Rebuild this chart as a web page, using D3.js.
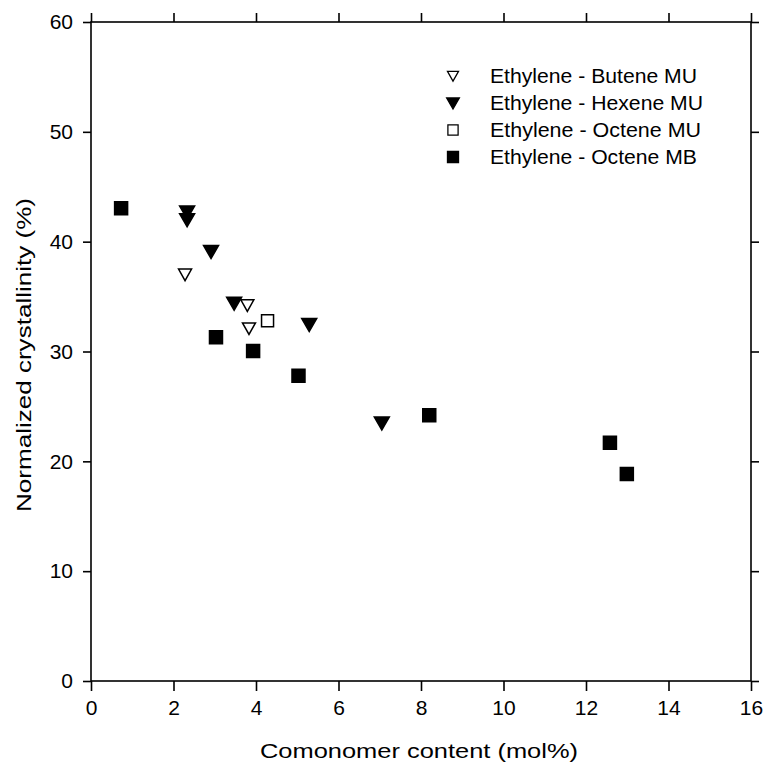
<!DOCTYPE html>
<html>
<head>
<meta charset="utf-8">
<script src="https://cdn.jsdelivr.net/npm/d3@7"></script>
<style>
  body { margin: 0; background: #fff; }
  text { font-family: "Liberation Sans", Arial, sans-serif; fill: #000; }
</style>
</head>
<body>
<div class="chartDiv"></div>
<script>
// data
var buteneMU_x = [2.28, 3.79, 3.83];
var buteneMU_y = [37.0, 34.2, 32.1];
var hexeneMU_x = [2.33, 2.33, 2.91, 3.47, 5.29, 7.05];
var hexeneMU_y = [42.7, 42.0, 39.1, 34.4, 32.45, 23.5];
var octeneMU_x = [4.28];
var octeneMU_y = [32.8];
var octeneMB_x = [0.73, 3.03, 3.93, 5.03, 8.2, 12.58, 12.99];
var octeneMB_y = [43.05, 31.3, 30.05, 27.8, 24.2, 21.7, 18.85];

var xTicks = [0, 2, 4, 6, 8, 10, 12, 14, 16];
var yTicks = [0, 10, 20, 30, 40, 50, 60];
var legendLabels = ["Ethylene - Butene MU", "Ethylene - Hexene MU", "Ethylene - Octene MU", "Ethylene - Octene MB"];

var width = 763, height = 769;
var margin = { top: 22, right: 12, bottom: 88, left: 91 };

var svg = d3.select(".chartDiv").append("svg")
    .attr("width", width)
    .attr("height", height);

var x = d3.scaleLinear().domain([0, 16]).range([margin.left, width - margin.right]);
var y = d3.scaleLinear().domain([0, 60]).range([height - margin.bottom, margin.top]);

// frame
svg.append("rect")
    .attr("x", x(0))
    .attr("y", y(60))
    .attr("width", x(16) - x(0))
    .attr("height", y(0) - y(60))
    .attr("fill", "none")
    .attr("stroke", "#000")
    .attr("stroke-width", 1.6);

function styleAxis(g, noLabels) {
    g.select(".domain").remove();
    g.selectAll(".tick line").attr("stroke", "#000").attr("stroke-width", 1.6);
    g.selectAll(".tick text").style("font-size", "21px");
    if (noLabels) g.selectAll(".tick text").remove();
}

svg.append("g")
    .attr("transform", "translate(0," + y(0) + ")")
    .call(d3.axisBottom(x).tickValues(xTicks).tickSize(10).tickPadding(9).tickFormat(d3.format("d")))
    .call(styleAxis, false);

svg.append("g")
    .attr("transform", "translate(0," + y(60) + ")")
    .call(d3.axisTop(x).tickValues(xTicks).tickSize(9))
    .call(styleAxis, true);

svg.append("g")
    .attr("transform", "translate(" + x(0) + ",0)")
    .call(d3.axisLeft(y).tickValues(yTicks).tickSize(8).tickPadding(10).tickFormat(d3.format("d")))
    .call(styleAxis, false);

svg.append("g")
    .attr("transform", "translate(" + x(16) + ",0)")
    .call(d3.axisRight(y).tickValues(yTicks).tickSize(8))
    .call(styleAxis, true);

// axis titles
svg.append("text")
    .attr("x", 419)
    .attr("y", 758)
    .attr("text-anchor", "middle")
    .attr("textLength", 318)
    .attr("lengthAdjust", "spacingAndGlyphs")
    .style("font-size", "21px")
    .text("Comonomer content (mol%)");

svg.append("text")
    .attr("transform", "translate(31,355) rotate(-90)")
    .attr("text-anchor", "middle")
    .attr("textLength", 314)
    .attr("lengthAdjust", "spacingAndGlyphs")
    .style("font-size", "21px")
    .text("Normalized crystallinity (%)");

// markers
var triDown = "M-7.5,-6 L7.5,-6 L0,7 Z";
var openTri = "M-6.5,-5.5 L6.5,-5.5 L0,6 Z";
var square = "M-6.5,-6.5 H6.5 V6.5 H-6.5 Z";
var openSq = "M-6,-6 H6 V6 H-6 Z";

var series = [
    { xs: buteneMU_x, ys: buteneMU_y, path: openTri, fill: "#fff" },
    { xs: hexeneMU_x, ys: hexeneMU_y, path: triDown, fill: "#000" },
    { xs: octeneMU_x, ys: octeneMU_y, path: openSq, fill: "#fff" },
    { xs: octeneMB_x, ys: octeneMB_y, path: square, fill: "#000" }
];

series.forEach(function(s) {
    svg.append("g").selectAll("path")
        .data(s.xs.map(function(d, i) { return [d, s.ys[i]]; }))
        .enter().append("path")
        .attr("d", s.path)
        .attr("transform", function(d) { return "translate(" + x(d[0]) + "," + y(d[1]) + ")"; })
        .attr("fill", s.fill)
        .attr("stroke", "#000")
        .attr("stroke-width", 1.5);
});

// legend
var legend = svg.append("g");
var legendWidths = [207, 213, 211, 207];
legendLabels.forEach(function(lab, i) {
    var ly = 76 + i * 27;
    var s = series[i];
    legend.append("path")
        .attr("d", s.path)
        .attr("transform", "translate(453," + ly + ") scale(0.85)")
        .attr("fill", s.fill)
        .attr("stroke", "#000")
        .attr("stroke-width", 1.5);
    legend.append("text")
        .attr("x", 490)
        .attr("y", ly)
        .attr("dy", "0.36em")
        .attr("textLength", legendWidths[i])
        .attr("lengthAdjust", "spacingAndGlyphs")
        .style("font-size", "20px")
        .text(lab);
});
</script>
</body>
</html>
